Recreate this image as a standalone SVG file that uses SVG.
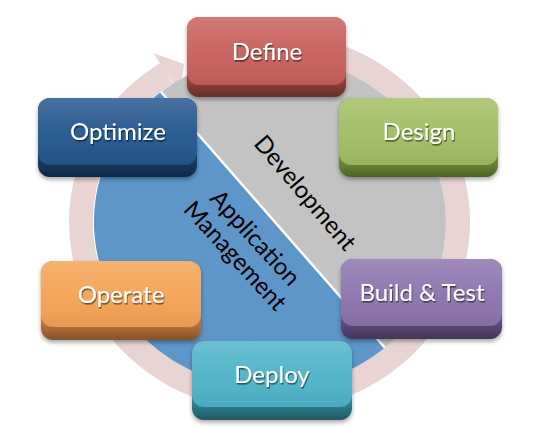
<svg xmlns="http://www.w3.org/2000/svg" width="540" height="428" viewBox="0 0 540 428">
<defs>
  <style>
    .lbl{font-family:Lato,"Open Sans","DejaVu Sans",sans-serif;font-size:24px;fill:#ffffff;text-anchor:middle;filter:url(#ts)}
    .cap{font-family:Lato,"Open Sans","DejaVu Sans",sans-serif;font-size:24px;fill:#000000;text-anchor:middle}
    .box{filter:url(#bs)}
  </style>
  <filter id="bs" x="-10%" y="-10%" width="120%" height="130%">
    <feDropShadow dx="0" dy="2.5" stdDeviation="2" flood-color="#000" flood-opacity="0.35"/>
  </filter>
  <filter id="ts" x="-10%" y="-20%" width="120%" height="150%">
    <feDropShadow dx="0.8" dy="1.6" stdDeviation="0.7" flood-color="#000" flood-opacity="0.55"/>
  </filter>
  <linearGradient id="hi" x1="0" y1="0" x2="0" y2="1">
    <stop offset="0" stop-color="#fff" stop-opacity="0.16"/>
    <stop offset="0.5" stop-color="#fff" stop-opacity="0.04"/>
    <stop offset="1" stop-color="#000" stop-opacity="0.06"/>
  </linearGradient>
  <linearGradient id="lip" x1="0" y1="0" x2="0" y2="1">
    <stop offset="0.8" stop-color="#000" stop-opacity="0"/>
    <stop offset="1" stop-color="#000" stop-opacity="0.3"/>
  </linearGradient>
</defs>
<rect width="540" height="428" fill="#ffffff"/>

<g id="connectors">
  <!-- circular arrow ring -->
  <path d="M 318.3 50.5 A 188.5 177.5 0 1 1 166.8 73.1" fill="none" stroke="#e9d4d4" stroke-width="24"/>
  <polygon points="153.5,53.4 183.9,63.8 180.2,92.8" fill="#e9d4d4"/>
</g>

<g id="disk">
  <path d="M 160.9 91.7 A 176 166 0 0 1 384.9 347.7 Z" fill="#c3c3c3"/>
  <path d="M 384.9 347.7 A 176 166 0 1 1 160.9 91.7 Z" fill="#5e96c9"/>
  <line x1="160.9" y1="91.7" x2="384.9" y2="347.7" stroke="#ffffff" stroke-width="2.5"/>
  <text class="cap" transform="translate(305,193) rotate(49.6)" y="8">Development</text>
  <text class="cap" transform="translate(255,238) rotate(47.5)" y="8">Application</text>
  <text class="cap" transform="translate(235,256) rotate(47.5)" y="8">Management</text>
</g>

<g id="define" class="box" transform="translate(187,17)">
  <rect width="159" height="80" rx="12" fill="#93403c"/>
  <rect width="159" height="80" rx="12" fill="url(#lip)"/>
  <rect width="159" height="68" rx="12" fill="#c8605c"/>
  <rect width="159" height="68" rx="12" fill="url(#hi)"/>
  <text class="lbl" x="80" y="42.5">Define</text>
</g>

<g id="design" class="box" transform="translate(339,98)">
  <rect width="159" height="79" rx="12" fill="#6b8b36"/>
  <rect width="159" height="79" rx="12" fill="url(#lip)"/>
  <rect width="159" height="67" rx="12" fill="#a1be63"/>
  <rect width="159" height="67" rx="12" fill="url(#hi)"/>
  <text class="lbl" x="80" y="42">Design</text>
</g>

<g id="optimize" class="box" transform="translate(38,98)">
  <rect width="159" height="79" rx="12" fill="#163a61"/>
  <rect width="159" height="79" rx="12" fill="url(#lip)"/>
  <rect width="159" height="67" rx="12" fill="#24578e"/>
  <rect width="159" height="67" rx="12" fill="url(#hi)"/>
  <text class="lbl" x="80" y="42">Optimize</text>
</g>

<g id="operate" class="box" transform="translate(41,261)">
  <rect width="160" height="79" rx="12" fill="#b8743a"/>
  <rect width="160" height="79" rx="12" fill="url(#lip)"/>
  <rect width="160" height="66" rx="12" fill="#f4a455"/>
  <rect width="160" height="66" rx="12" fill="url(#hi)"/>
  <text class="lbl" x="80" y="42">Operate</text>
</g>

<g id="build-test" class="box" transform="translate(341,259)">
  <rect width="161" height="80" rx="12" fill="#5f4b7d"/>
  <rect width="161" height="80" rx="12" fill="url(#lip)"/>
  <rect width="161" height="67" rx="12" fill="#8d74ae"/>
  <rect width="161" height="67" rx="12" fill="url(#hi)"/>
  <text class="lbl" x="81" y="42">Build &amp; Test</text>
</g>

<g id="deploy" class="box" transform="translate(192,341)">
  <rect width="160" height="79" rx="12" fill="#2f7f90"/>
  <rect width="160" height="79" rx="12" fill="url(#lip)"/>
  <rect width="160" height="66" rx="12" fill="#4fb4c9"/>
  <rect width="160" height="66" rx="12" fill="url(#hi)"/>
  <text class="lbl" x="80" y="42">Deploy</text>
</g>
</svg>
